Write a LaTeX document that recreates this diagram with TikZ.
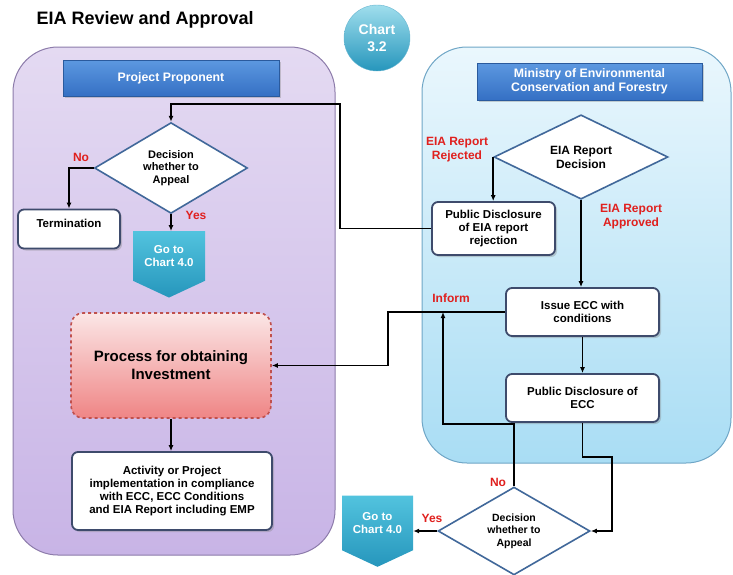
\documentclass[tikz,border=0pt]{standalone}
\usepackage{fontspec}
\setmainfont{Liberation Sans}
\usetikzlibrary{shapes.geometric,shapes.symbols,shadows,arrows.meta}

\definecolor{lavtop}{HTML}{E4DAF2}
\definecolor{lavbot}{HTML}{C8B4E6}
\definecolor{lavline}{HTML}{8C7BAA}
\definecolor{skytop}{HTML}{EAF7FD}
\definecolor{skybot}{HTML}{A9DDF4}
\definecolor{skyline}{HTML}{6FA6C6}
\definecolor{hdrtop}{HTML}{5C98E0}
\definecolor{hdrbot}{HTML}{3570C4}
\definecolor{tealtop}{HTML}{52C3DE}
\definecolor{tealbot}{HTML}{2696BC}
\definecolor{boxline}{HTML}{3E4B6C}
\definecolor{dialine}{HTML}{41689A}
\definecolor{pinktop}{HTML}{FBE6E6}
\definecolor{pinkbot}{HTML}{EF8585}
\definecolor{pinkline}{HTML}{C0504D}
\definecolor{labred}{HTML}{E0201E}

\begin{document}
\begin{tikzpicture}[x=1pt,y=-1pt,>={Latex[length=6pt,width=5pt]},
    font=\bfseries\fontsize{11.5}{13.2}\selectfont,
    lane/.style={rounded corners=45pt,line width=1pt,inner sep=0pt},
    header/.style={top color=hdrtop,bottom color=hdrbot,draw=hdrbot!80!black,
        text=white,align=center,inner sep=0pt,
        font=\bfseries\fontsize{12.3}{14.5}\selectfont,
        drop shadow={opacity=0.35,shadow xshift=2pt,shadow yshift=-2pt}},
    box/.style={draw=boxline,line width=1.8pt,fill=white,rounded corners=6pt,
        align=center,inner sep=0pt,
        drop shadow={opacity=0.35,shadow xshift=2pt,shadow yshift=-2pt}},
    decision/.style={diamond,draw=dialine,line width=1.6pt,fill=white,
        align=center,inner sep=0pt},
    goto/.style={signal,signal to=south,signal pointer angle=130,
        top color=tealtop,bottom color=tealbot,text=white,align=center,
        minimum width=72pt,minimum height=61pt,inner sep=0pt},
    tag/.style={text=labred,align=center,font=\bfseries\fontsize{12}{14}\selectfont},
    link/.style={line width=1.5pt}]

    \useasboundingbox (0,0) rectangle (733,574);

    % swimlanes
    \node (leftlane) [lane,draw=lavline,top color=lavtop,bottom color=lavbot,
        minimum width=322pt,minimum height=508pt] at (174,301) {};
    \node (rightlane) [lane,draw=skyline,top color=skytop,bottom color=skybot,
        minimum width=309pt,minimum height=416pt] at (576.5,255) {};

    \node (title) [anchor=west,font=\bfseries\fontsize{18}{21}\selectfont] at (33,20) {EIA Review and Approval};
    \node (chart) [circle,top color=tealtop!55!white,bottom color=tealbot,draw=tealbot!70!white,
        text=white,minimum size=66pt,inner sep=0pt,align=center,
        font=\bfseries\fontsize{14}{16.5}\selectfont] at (377,38) {Chart\\3.2};

    \node (hdrPP) [header,minimum width=216pt,minimum height=36pt] at (171,78) {Project Proponent};
    \node (hdrMin) [header,minimum width=225pt,minimum height=37pt] at (589.5,81.5) {Ministry of Environmental\\Conservation and Forestry};

    % project proponent side
    \node (dec1) [decision,minimum width=153pt,minimum height=80pt,
        font=\bfseries\fontsize{11}{12.5}\selectfont] at (171,168) {Decision\\whether to\\Appeal};
    \node (term) [box,minimum width=102pt,text height=13pt,text depth=16pt,inner ysep=5pt] at (69,229) {Termination};
    \node (go1) [goto] at (169,256) {Go to\\Chart 4.0};
    \node (proc) [rounded corners=12pt,dashed,draw=pinkline,line width=1.6pt,
        top color=pinktop,bottom color=pinkbot,align=center,inner sep=0pt,
        minimum width=200pt,minimum height=105pt,
        font=\bfseries\fontsize{15}{18}\selectfont] at (171,365.5) {Process for obtaining\\Investment};
    \node (act) [box,minimum width=200pt,minimum height=78pt] at (172,491) {Activity or Project\\implementation in compliance\\with ECC, ECC Conditions\\and EIA Report including EMP};

    % ministry side
    \node (eiadec) [decision,minimum width=174pt,minimum height=67pt,
        font=\bfseries\fontsize{12}{14}\selectfont] at (581,157) {EIA Report\\Decision};
    \node (pdrej) [box,minimum width=123pt,minimum height=53pt] at (493.5,228.5) {Public Disclosure\\of EIA report\\rejection};
    \node (issue) [box,minimum width=153pt,minimum height=48pt] at (582.5,312) {Issue ECC with\\conditions};
    \node (pdecc) [box,minimum width=153pt,minimum height=48pt] at (582.5,398) {Public Disclosure of\\ECC};
    \node (dec2) [decision,minimum width=152pt,minimum height=82pt,
        font=\bfseries\fontsize{10.5}{12.5}\selectfont] at (514,531) {Decision\\whether to\\Appeal};
    \node (go2) [goto,minimum width=71pt,minimum height=66pt] at (377.5,523) {Go to\\Chart 4.0};

    % labels
    \node (no1) [tag] at (81,157) {No};
    \node (yes1) [tag] at (196,215) {Yes};
    \node (rej) [tag] at (457,150) {EIA Report\\Rejected};
    \node (appr) [tag] at (631,217) {EIA Report\\Approved};
    \node (inform) [tag] at (451,298) {Inform};
    \node (no2) [tag] at (498,482) {No};
    \node (yes2) [tag] at (432,518) {Yes};

    \coordinate (back) at (340,104);
    \coordinate (jog) at (388,340);
    \coordinate (tap) at (443,312);
    \coordinate (loop) at (443,424);
    \coordinate (turn) at (612,457);

    \draw[link,->] (dec1.west) -| (term.north);
    \draw[link,->] (dec1.south) -- (dec1.south |- go1.north);
    \draw[link,->] (proc.south) -- (proc.south |- act.north);
    \draw[link,->] (pdrej.west) -| (back) -| (dec1.north);
    \draw[link,->] (eiadec.west) -- (eiadec.west |- pdrej.north);
    \draw[link,->] (eiadec.south) -- (eiadec.south |- issue.north);
    \draw[link,->] (issue.south) -- (pdecc.north);
    \draw[link,->] (issue.west) -| (jog) |- (proc.east);
    \draw[link,->] (dec2.north) |- (loop) -- (tap);
    \draw[link,->] (pdecc.south) |- (turn) |- (dec2.east);
    \draw[link,->] (dec2.west) -- (dec2.west -| go2.east);
\end{tikzpicture}
\end{document}
